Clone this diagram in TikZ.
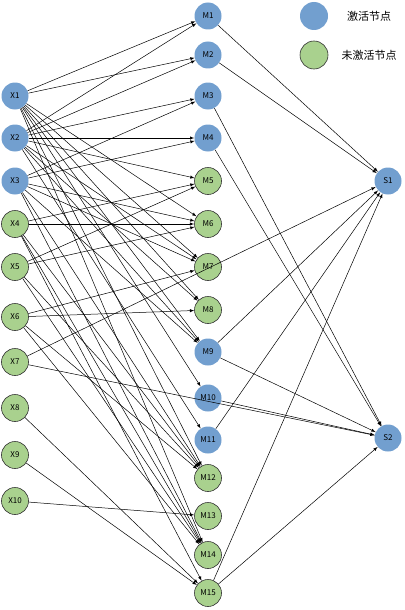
\documentclass[tikz,border=0pt]{standalone}
\usepackage{fontspec}
\setmainfont{Noto Sans CJK SC}
\usepackage{tikz}
\usetikzlibrary{arrows}
\definecolor{actblue}{RGB}{114,159,207}
\definecolor{inactgreen}{RGB}{169,209,142}
\tikzstyle{active} = [circle, minimum size=27pt, inner sep=0pt, fill=actblue, font=\fontsize{8}{9}\selectfont]
\tikzstyle{inactive} = [circle, minimum size=27pt, inner sep=0pt, fill=inactgreen, draw=black!80, line width=0.6pt, font=\fontsize{8}{9}\selectfont]
\tikzstyle{legendtext} = [font=\fontsize{11}{13}\selectfont]
\tikzstyle{arrow} = [line width=0.5pt,->,>=latex]

\begin{document}
\begin{tikzpicture}[x=1pt,y=-1pt]
        \useasboundingbox (0,0) rectangle (404,610);
        % input layer
        \node (x1) [active] at (15,96) {X1};
        \node (x2) [active] at (15,138) {X2};
        \node (x3) [active] at (15,181) {X3};
        \node (x4) [inactive] at (15,224) {X4};
        \node (x5) [inactive] at (15,267) {X5};
        \node (x6) [inactive] at (15,317) {X6};
        \node (x7) [inactive] at (15,362) {X7};
        \node (x8) [inactive] at (15,408) {X8};
        \node (x9) [inactive] at (15,455) {X9};
        \node (x10) [inactive] at (15,501) {X10};
        % middle layer
        \node (m1) [active] at (208,16) {M1};
        \node (m2) [active] at (208,55) {M2};
        \node (m3) [active] at (208,96) {M3};
        \node (m4) [active] at (208,138) {M4};
        \node (m5) [inactive] at (208,181) {M5};
        \node (m6) [inactive] at (208,224) {M6};
        \node (m7) [inactive] at (208,267) {M7};
        \node (m8) [inactive] at (208,310) {M8};
        \node (m9) [active] at (208,352) {M9};
        \node (m10) [active] at (208,398) {M10};
        \node (m11) [active] at (208,440) {M11};
        \node (m12) [inactive] at (208,478) {M12};
        \node (m13) [inactive] at (208,516) {M13};
        \node (m14) [inactive] at (208,555) {M14};
        \node (m15) [inactive] at (208,593) {M15};
        % output layer
        \node (s1) [active] at (388,181) {S1};
        \node (s2) [active] at (388,438) {S2};
        % legend
        \node (lg1) [active, minimum size=28pt] at (314,16) {};
        \node (lg2) [inactive, minimum size=28pt] at (314,55) {};
        \node (lt1) [legendtext] at (369,16) {激活节点};
        \node (lt2) [legendtext] at (369,55) {未激活节点};
        % X -> M
        \draw [arrow] (x1) -- (m1);
        \draw [arrow] (x1) -- (m2);
        \draw [arrow] (x1) -- (m6);
        \draw [arrow] (x1) -- (m7);
        \draw [arrow] (x1) -- (m8);
        \draw [arrow] (x1) -- (m9);
        \draw [arrow] (x1) -- (m10);
        \draw [arrow] (x1) -- (m12);
        \draw [arrow] (x1) -- (m14);
        \draw [arrow] (x2) -- (m1);
        \draw [arrow] (x2) -- (m2);
        \draw [arrow] (x2) -- (m3);
        \draw [arrow] (x2) -- (m4);
        \draw [arrow] (x2) -- (m5);
        \draw [arrow] (x2) -- (m7);
        \draw [arrow] (x2) -- (m8);
        \draw [arrow] (x2) -- (m9);
        \draw [arrow] (x2) -- (m11);
        \draw [arrow] (x3) -- (m3);
        \draw [arrow] (x3) -- (m4);
        \draw [arrow] (x3) -- (m6);
        \draw [arrow] (x3) -- (m7);
        \draw [arrow] (x3) -- (m9);
        \draw [arrow] (x3) -- (m12);
        \draw [arrow] (x3) -- (m14);
        \draw [arrow] (x4) -- (m5);
        \draw [arrow] (x4) -- (m6);
        \draw [arrow] (x4) -- (m12);
        \draw [arrow] (x4) -- (m14);
        \draw [arrow] (x4) -- (m15);
        \draw [arrow] (x5) -- (m5);
        \draw [arrow] (x5) -- (m6);
        \draw [arrow] (x5) -- (m12);
        \draw [arrow] (x5) -- (m14);
        \draw [arrow] (x6) -- (m7);
        \draw [arrow] (x6) -- (m8);
        \draw [arrow] (x6) -- (m12);
        \draw [arrow] (x6) -- (m14);
        \draw [arrow] (x7) -- (s1);
        \draw [arrow] (x7) -- (s2);
        \draw [arrow] (x8) -- (m15);
        \draw [arrow] (x9) -- (m15);
        \draw [arrow] (x10) -- (m13);
        % M -> S
        \draw [arrow] (m1) -- (s1);
        \draw [arrow] (m2) -- (s1);
        \draw [arrow] (m9) -- (s1);
        \draw [arrow] (m11) -- (s1);
        \draw [arrow] (m15) -- (s1);
        \draw [arrow] (m3) -- (s2);
        \draw [arrow] (m4) -- (s2);
        \draw [arrow] (m9) -- (s2);
        \draw [arrow] (m10) -- (s2);
        \draw [arrow] (m15) -- (s2);
    \end{tikzpicture}
\end{document}
